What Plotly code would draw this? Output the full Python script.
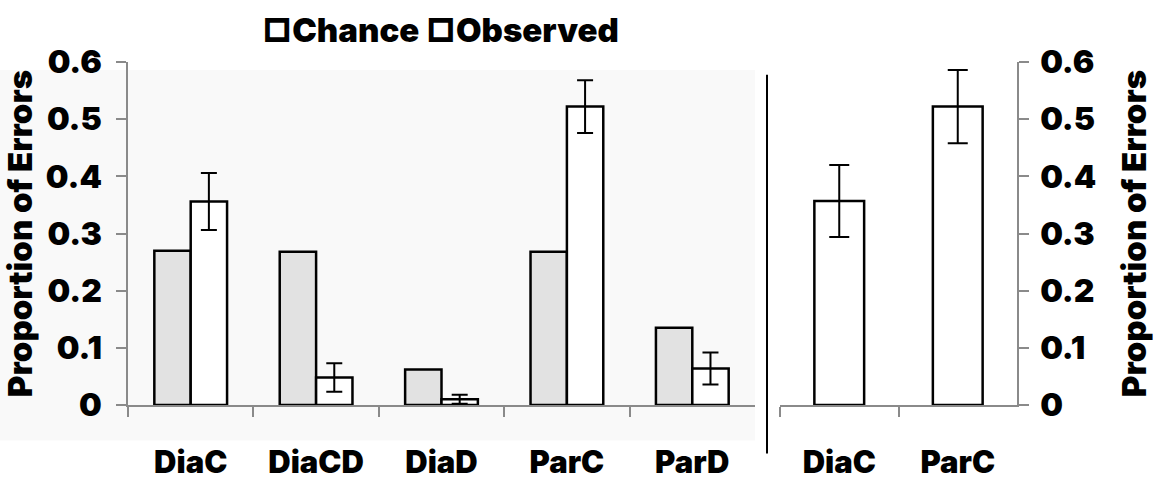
import plotly.graph_objects as go

categories = ["DiaC", "DiaCD", "DiaD", "ParC", "ParD"]
chance = [0.27, 0.268, 0.062, 0.268, 0.135]
observed = [0.356, 0.048, 0.010, 0.522, 0.064]
observed_err = [0.050, 0.025, 0.008, 0.046, 0.028]

right_categories = ["DiaC", "ParC"]
right_observed = [0.357, 0.522]
right_err = [0.063, 0.064]

y_ticks = [0, 0.1, 0.2, 0.3, 0.4, 0.5, 0.6]
y_tick_labels = ["0", "0.1", "0.2", "0.3", "0.4", "0.5", "0.6"]

W, H = 1159, 480
FONT = "Inter"
WEIGHT = 900
AXIS_GRAY = "#8a8a8a"

fig = go.Figure()

fig.add_trace(go.Bar(
    name="Chance", x=categories, y=chance,
    marker=dict(color="#e2e2e2", line=dict(color="black", width=2.5)),
    xaxis="x", yaxis="y", showlegend=False,
))
fig.add_trace(go.Bar(
    name="Observed", x=categories, y=observed,
    marker=dict(color="white", line=dict(color="black", width=2.5)),
    error_y=dict(type="data", array=observed_err, color="black", thickness=2, width=8),
    xaxis="x", yaxis="y", showlegend=False,
))
fig.add_trace(go.Bar(
    name="Observed", x=right_categories, y=right_observed, width=0.42,
    marker=dict(color="white", line=dict(color="black", width=2.5)),
    error_y=dict(type="data", array=right_err, color="black", thickness=2, width=10),
    xaxis="x2", yaxis="y2", showlegend=False,
))

tickfont = dict(family=FONT, size=32, color="black", weight=WEIGHT)
titlefont = dict(family=FONT, size=33, color="black", weight=WEIGHT)

common_y = dict(
    range=[0, 0.6], tickvals=y_ticks, ticktext=y_tick_labels,
    showgrid=False, zeroline=False, showline=True, linecolor=AXIS_GRAY, linewidth=1.5,
    ticks="outside", ticklen=10, tickcolor=AXIS_GRAY, tickwidth=1.5,
    tickfont=tickfont,
)
common_x = dict(
    type="category", showgrid=False, zeroline=False, showline=True,
    linecolor=AXIS_GRAY, linewidth=1.5, ticks="outside", ticklen=10,
    tickcolor=AXIS_GRAY, tickwidth=1.5, tickson="boundaries",
    tickfont=dict(family=FONT, size=31, color="black", weight=WEIGHT),
    ticklabelstandoff=29,
)

fig.update_layout(
    width=W, height=H,
    margin=dict(l=0, r=0, t=62, b=71),
    paper_bgcolor="white", plot_bgcolor="rgba(0,0,0,0)",
    barmode="group", bargap=0.42, bargroupgap=0,
    xaxis=dict(domain=[128 / W, 755 / W], anchor="y", **common_x),
    yaxis=dict(domain=[0, 1], anchor="x", side="left", ticklabelstandoff=8,
               title=dict(text="Proportion of Errors", font=titlefont, standoff=10),
               **common_y),
    xaxis2=dict(domain=[780 / W, 1017 / W], anchor="y2", **common_x),
    yaxis2=dict(domain=[0, 1], anchor="x2", side="right", ticklabelstandoff=5,
                title=dict(text="Proportion of Errors", font=titlefont, standoff=28),
                **common_y),
    shapes=[
        dict(type="rect", xref="paper", yref="paper",
             x0=0, x1=755 / W, y0=(409 - 445) / 347, y1=(409 - 70) / 347,
             fillcolor="#f9f9f9", line=dict(width=0), layer="below"),
        dict(type="line", xref="paper", yref="paper",
             x0=767 / W, x1=767 / W, y0=(409 - 458) / 347, y1=(409 - 75) / 347,
             line=dict(color="black", width=2)),
    ],
    annotations=[
        dict(text="□Chance □Observed", xref="paper", yref="paper",
             x=440 / W, y=(409 - 30) / 347, xanchor="center", yanchor="middle",
             showarrow=False, font=dict(family=FONT, size=33, color="black", weight=WEIGHT)),
    ],
)

fig.write_html("out.html")
